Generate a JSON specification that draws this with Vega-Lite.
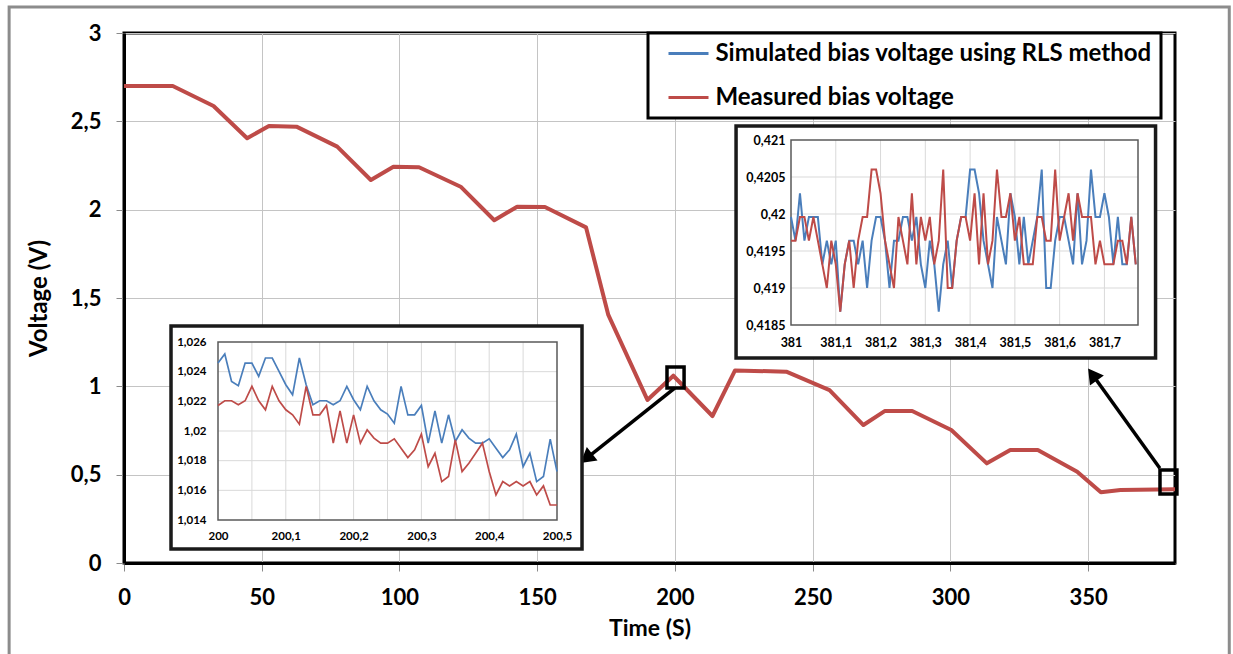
{
  "$schema": "https://vega.github.io/schema/vega-lite/v6.json",
  "width": 1051,
  "height": 530,
  "autosize": {"type": "none"},
  "padding": {"left": 124, "top": 33, "right": 58, "bottom": 91},
  "background": "white",
  "config": {
    "font": "Lato",
    "view": {"stroke": "black", "strokeWidth": 3},
    "axis": {"labelFont": "Lato", "titleFont": "Lato", "labelFlush": false, "labelOverlap": false},
    "legend": {"labelFont": "Lato"}
  },
  "datasets": {
    "main": [
      {"t": 0, "meas": 2.70}, {"t": 17.7, "meas": 2.70}, {"t": 32.5, "meas": 2.587}, {"t": 44.7, "meas": 2.404},
      {"t": 52.6, "meas": 2.474}, {"t": 62.6, "meas": 2.47}, {"t": 77.4, "meas": 2.357}, {"t": 89.6, "meas": 2.168},
      {"t": 97.8, "meas": 2.243}, {"t": 107.1, "meas": 2.24}, {"t": 122.2, "meas": 2.13}, {"t": 134.4, "meas": 1.94},
      {"t": 142.7, "meas": 2.017}, {"t": 152.8, "meas": 2.015}, {"t": 167.7, "meas": 1.9}, {"t": 175.8, "meas": 1.404},
      {"t": 190, "meas": 0.923}, {"t": 199.4, "meas": 1.06}, {"t": 213.6, "meas": 0.832}, {"t": 221.8, "meas": 1.09},
      {"t": 240.4, "meas": 1.083}, {"t": 256.1, "meas": 0.979}, {"t": 268.4, "meas": 0.781}, {"t": 276.1, "meas": 0.86},
      {"t": 286.1, "meas": 0.86}, {"t": 300.3, "meas": 0.753}, {"t": 313.2, "meas": 0.564}, {"t": 321.7, "meas": 0.64},
      {"t": 331.7, "meas": 0.64}, {"t": 346, "meas": 0.517}, {"t": 354.6, "meas": 0.4}, {"t": 361.7, "meas": 0.413},
      {"t": 381.5, "meas": 0.418}
    ],
    "inset1": [
      {"t": 200.00, "sim": 1.02458, "meas": 1.02172}, {"t": 200.01, "sim": 1.02519, "meas": 1.02204},
      {"t": 200.02, "sim": 1.02334, "meas": 1.02204}, {"t": 200.03, "sim": 1.02305, "meas": 1.02177},
      {"t": 200.04, "sim": 1.02458, "meas": 1.02204}, {"t": 200.05, "sim": 1.02458, "meas": 1.02301},
      {"t": 200.06, "sim": 1.02368, "meas": 1.02204}, {"t": 200.07, "sim": 1.02492, "meas": 1.02143},
      {"t": 200.08, "sim": 1.02492, "meas": 1.02301}, {"t": 200.09, "sim": 1.02402, "meas": 1.02204},
      {"t": 200.10, "sim": 1.02312, "meas": 1.02143}, {"t": 200.11, "sim": 1.02244, "meas": 1.02109},
      {"t": 200.12, "sim": 1.02492, "meas": 1.02046}, {"t": 200.13, "sim": 1.02312, "meas": 1.02301},
      {"t": 200.14, "sim": 1.02177, "meas": 1.02109}, {"t": 200.15, "sim": 1.02204, "meas": 1.02109},
      {"t": 200.16, "sim": 1.02204, "meas": 1.02172}, {"t": 200.17, "sim": 1.02177, "meas": 1.01918},
      {"t": 200.18, "sim": 1.02204, "meas": 1.02136}, {"t": 200.19, "sim": 1.02301, "meas": 1.01918},
      {"t": 200.20, "sim": 1.02211, "meas": 1.02109}, {"t": 200.21, "sim": 1.02143, "meas": 1.01918},
      {"t": 200.22, "sim": 1.02301, "meas": 1.02008}, {"t": 200.23, "sim": 1.02204, "meas": 1.01952},
      {"t": 200.24, "sim": 1.02143, "meas": 1.01918}, {"t": 200.25, "sim": 1.02114, "meas": 1.01918},
      {"t": 200.26, "sim": 1.02053, "meas": 1.01947}, {"t": 200.27, "sim": 1.02301, "meas": 1.01884},
      {"t": 200.28, "sim": 1.02109, "meas": 1.01821}, {"t": 200.29, "sim": 1.02109, "meas": 1.01873},
      {"t": 200.30, "sim": 1.02172, "meas": 1.01979}, {"t": 200.31, "sim": 1.01918, "meas": 1.0176},
      {"t": 200.32, "sim": 1.02136, "meas": 1.0185}, {"t": 200.33, "sim": 1.01918, "meas": 1.01659},
      {"t": 200.34, "sim": 1.02109, "meas": 1.01693}, {"t": 200.35, "sim": 1.01929, "meas": 1.0194},
      {"t": 200.36, "sim": 1.02008, "meas": 1.01727}, {"t": 200.37, "sim": 1.01952, "meas": 1.01783},
      {"t": 200.38, "sim": 1.01918, "meas": 1.0185}, {"t": 200.39, "sim": 1.01918, "meas": 1.01918},
      {"t": 200.40, "sim": 1.01947, "meas": 1.01727}, {"t": 200.41, "sim": 1.01884, "meas": 1.01569},
      {"t": 200.42, "sim": 1.01821, "meas": 1.01659}, {"t": 200.43, "sim": 1.01873, "meas": 1.0163},
      {"t": 200.44, "sim": 1.01979, "meas": 1.01659}, {"t": 200.45, "sim": 1.0176, "meas": 1.0163},
      {"t": 200.46, "sim": 1.0185, "meas": 1.01659}, {"t": 200.47, "sim": 1.01659, "meas": 1.01569},
      {"t": 200.48, "sim": 1.01693, "meas": 1.0163}, {"t": 200.49, "sim": 1.01945, "meas": 1.01501},
      {"t": 200.50, "sim": 1.01727, "meas": 1.01501}
    ],
    "inset2": [
      {"t": 381.00, "sim": 0.41996, "meas": 0.41964}, {"t": 381.01, "sim": 0.41964, "meas": 0.41964},
      {"t": 381.02, "sim": 0.42028, "meas": 0.41996}, {"t": 381.03, "sim": 0.41964, "meas": 0.41996},
      {"t": 381.04, "sim": 0.41996, "meas": 0.41964}, {"t": 381.05, "sim": 0.41996, "meas": 0.41996},
      {"t": 381.06, "sim": 0.41996, "meas": 0.41964}, {"t": 381.07, "sim": 0.41932, "meas": 0.41932},
      {"t": 381.08, "sim": 0.41964, "meas": 0.419}, {"t": 381.09, "sim": 0.41932, "meas": 0.41964},
      {"t": 381.10, "sim": 0.41964, "meas": 0.41932}, {"t": 381.11, "sim": 0.41868, "meas": 0.41868},
      {"t": 381.12, "sim": 0.41932, "meas": 0.41932}, {"t": 381.13, "sim": 0.41964, "meas": 0.41964},
      {"t": 381.14, "sim": 0.41964, "meas": 0.419}, {"t": 381.15, "sim": 0.41932, "meas": 0.41964},
      {"t": 381.16, "sim": 0.41964, "meas": 0.41996}, {"t": 381.17, "sim": 0.419, "meas": 0.41996},
      {"t": 381.18, "sim": 0.41964, "meas": 0.4206}, {"t": 381.19, "sim": 0.41996, "meas": 0.4206},
      {"t": 381.20, "sim": 0.41996, "meas": 0.42028}, {"t": 381.21, "sim": 0.41964, "meas": 0.41964},
      {"t": 381.22, "sim": 0.419, "meas": 0.41932}, {"t": 381.23, "sim": 0.41964, "meas": 0.419},
      {"t": 381.24, "sim": 0.41964, "meas": 0.41996}, {"t": 381.25, "sim": 0.41996, "meas": 0.41964},
      {"t": 381.26, "sim": 0.41996, "meas": 0.41932}, {"t": 381.27, "sim": 0.41964, "meas": 0.42028},
      {"t": 381.28, "sim": 0.41996, "meas": 0.41932}, {"t": 381.29, "sim": 0.41932, "meas": 0.41996},
      {"t": 381.30, "sim": 0.419, "meas": 0.41964}, {"t": 381.31, "sim": 0.41964, "meas": 0.41996},
      {"t": 381.32, "sim": 0.41932, "meas": 0.41932}, {"t": 381.33, "sim": 0.41868, "meas": 0.41964},
      {"t": 381.34, "sim": 0.41932, "meas": 0.4206}, {"t": 381.35, "sim": 0.41964, "meas": 0.419},
      {"t": 381.36, "sim": 0.419, "meas": 0.419}, {"t": 381.37, "sim": 0.41964, "meas": 0.41964},
      {"t": 381.38, "sim": 0.41996, "meas": 0.41996}, {"t": 381.39, "sim": 0.41996, "meas": 0.41996},
      {"t": 381.40, "sim": 0.4206, "meas": 0.41964}, {"t": 381.41, "sim": 0.4206, "meas": 0.42028},
      {"t": 381.42, "sim": 0.42028, "meas": 0.41932}, {"t": 381.43, "sim": 0.41964, "meas": 0.42028},
      {"t": 381.44, "sim": 0.41932, "meas": 0.41932}, {"t": 381.45, "sim": 0.419, "meas": 0.41964},
      {"t": 381.46, "sim": 0.41996, "meas": 0.4206}, {"t": 381.47, "sim": 0.41964, "meas": 0.41996},
      {"t": 381.48, "sim": 0.41932, "meas": 0.41996}, {"t": 381.49, "sim": 0.42028, "meas": 0.42028},
      {"t": 381.50, "sim": 0.41996, "meas": 0.41964}, {"t": 381.51, "sim": 0.41932, "meas": 0.41996},
      {"t": 381.52, "sim": 0.41996, "meas": 0.41932}, {"t": 381.53, "sim": 0.41932, "meas": 0.41932},
      {"t": 381.54, "sim": 0.41964, "meas": 0.41932}, {"t": 381.55, "sim": 0.41996, "meas": 0.41996},
      {"t": 381.56, "sim": 0.4206, "meas": 0.41996}, {"t": 381.57, "sim": 0.419, "meas": 0.41964},
      {"t": 381.58, "sim": 0.419, "meas": 0.41964}, {"t": 381.59, "sim": 0.41964, "meas": 0.4206},
      {"t": 381.60, "sim": 0.41996, "meas": 0.41964}, {"t": 381.61, "sim": 0.41996, "meas": 0.41996},
      {"t": 381.62, "sim": 0.41964, "meas": 0.42028}, {"t": 381.63, "sim": 0.41932, "meas": 0.41964},
      {"t": 381.64, "sim": 0.42028, "meas": 0.42028}, {"t": 381.65, "sim": 0.41932, "meas": 0.41996},
      {"t": 381.66, "sim": 0.41964, "meas": 0.41996}, {"t": 381.67, "sim": 0.4206, "meas": 0.41996},
      {"t": 381.68, "sim": 0.41996, "meas": 0.41932}, {"t": 381.69, "sim": 0.41996, "meas": 0.41964},
      {"t": 381.70, "sim": 0.42028, "meas": 0.41932}, {"t": 381.71, "sim": 0.41996, "meas": 0.41932},
      {"t": 381.72, "sim": 0.41932, "meas": 0.41932}, {"t": 381.73, "sim": 0.41996, "meas": 0.41964},
      {"t": 381.74, "sim": 0.41932, "meas": 0.41964}, {"t": 381.75, "sim": 0.41932, "meas": 0.41932},
      {"t": 381.76, "sim": 0.41996, "meas": 0.41996}, {"t": 381.77, "sim": 0.41932, "meas": 0.41932}
    ],
    "g1x": [{"g": 200.05}, {"g": 200.1}, {"g": 200.15}, {"g": 200.2}, {"g": 200.25}, {"g": 200.3}, {"g": 200.35}, {"g": 200.4}, {"g": 200.45}],
    "g1y": [{"g": 1.016}, {"g": 1.018}, {"g": 1.02}, {"g": 1.022}, {"g": 1.024}],
    "g2x": [{"g": 381.1}, {"g": 381.2}, {"g": 381.3}, {"g": 381.4}, {"g": 381.5}, {"g": 381.6}, {"g": 381.7}],
    "g2y": [{"g": 0.419}, {"g": 0.4195}, {"g": 0.42}, {"g": 0.4205}]
  },
  "resolve": {"scale": {"x": "independent", "y": "independent"}, "axis": {"x": "independent", "y": "independent"}},
  "layer": [
    {
      "layer": [
        {
          "data": {"name": "main"},
          "transform": [{"fold": ["meas"], "as": ["series", "v"]}],
          "mark": {"type": "line", "strokeWidth": 4, "strokeJoin": "round"},
          "encoding": {
            "x": {
              "field": "t", "type": "quantitative",
              "scale": {"domain": [0, 381.5], "nice": false, "zero": false},
              "axis": {
                "title": "Time (S)", "values": [0, 50, 100, 150, 200, 250, 300, 350],
                "grid": true, "gridColor": "#c4c4c4", "gridWidth": 1,
                "domainColor": "black", "domainWidth": 3,
                "tickColor": "#8a8a8a", "tickSize": 8, "tickWidth": 1,
                "labelFontSize": 22, "labelFontWeight": "bold", "labelColor": "black", "labelPadding": 16,
                "titleFontSize": 23, "titleFontWeight": "bold", "titleColor": "black", "titlePadding": 9,
                "labelExpr": "replace(format(datum.value, '~g'), '.', ',')"
              }
            },
            "y": {
              "field": "v", "type": "quantitative",
              "scale": {"domain": [0, 3], "nice": false, "zero": false},
              "axis": {
                "title": "Voltage (V)", "values": [0, 0.5, 1, 1.5, 2, 2.5, 3],
                "grid": true, "gridColor": "#c4c4c4", "gridWidth": 1,
                "domainColor": "black", "domainWidth": 3,
                "tickColor": "#8a8a8a", "tickSize": 8, "tickWidth": 1,
                "labelFontSize": 22, "labelFontWeight": "bold", "labelColor": "black", "labelPadding": 15,
                "titleFontSize": 24, "titleFontWeight": "bold", "titleColor": "black", "titlePadding": 19,
                "labelExpr": "replace(format(datum.value, '~g'), '.', ',')"
              }
            },
            "color": {
              "field": "series", "type": "nominal",
              "scale": {"domain": ["sim", "meas"], "range": ["#4a7ebb", "#be4b48"]},
              "legend": {
                "orient": "none", "legendX": 524, "legendY": 0, "title": null,
                "symbolType": "M-2,0H2", "symbolSize": 400, "symbolStrokeWidth": 3,
                "symbolOffset": 20, "labelOffset": 15,
                "labelFontSize": 24, "labelFontWeight": "bold", "labelColor": "black", "labelLimit": 700,
                "padding": 8.5, "rowPadding": 20,
                "strokeColor": "black", "fillColor": "white",
                "labelExpr": "datum.label == 'sim' ? 'Simulated bias voltage using RLS method' : 'Measured bias voltage'",
                "encode": {"legend": {"update": {"strokeWidth": {"value": 3}}}}
              }
            }
          }
        },
        {
          "data": {"values": [{}]},
          "mark": {"type": "rect", "filled": false, "stroke": "#8c8c8c", "strokeWidth": 3},
          "encoding": {
            "x": {"datum": -41.7, "type": "quantitative"},
            "x2": {"datum": 401.2},
            "y": {"datum": 3.147, "type": "quantitative"},
            "y2": {"datum": -0.85}
          }
        },
        {
          "data": {"values": [{}]},
          "mark": {"type": "rect", "filled": false, "stroke": "black", "strokeWidth": 3.5},
          "encoding": {
            "x": {"datum": 197.1, "type": "quantitative"}, "x2": {"datum": 203.3},
            "y": {"datum": 1.109, "type": "quantitative"}, "y2": {"datum": 0.991}
          }
        },
        {
          "data": {"values": [{}]},
          "mark": {"type": "rect", "filled": false, "stroke": "black", "strokeWidth": 3.5},
          "encoding": {
            "x": {"datum": 376.05, "type": "quantitative"}, "x2": {"datum": 382.2},
            "y": {"datum": 0.526, "type": "quantitative"}, "y2": {"datum": 0.391}
          }
        },
        {
          "data": {"values": [{}]},
          "mark": {"type": "rule", "stroke": "black", "strokeWidth": 3.5},
          "encoding": {
            "x": {"datum": 199.9, "type": "quantitative"}, "x2": {"datum": 167.96},
            "y": {"datum": 0.99, "type": "quantitative"}, "y2": {"datum": 0.594}
          }
        },
        {
          "data": {"values": [{}]},
          "mark": {"type": "point", "shape": "triangle-up", "filled": true, "fill": "black", "stroke": "black", "size": 190, "angle": 231.5, "opacity": 1},
          "encoding": {
            "x": {"datum": 167.96, "type": "quantitative"},
            "y": {"datum": 0.594, "type": "quantitative"}
          }
        },
        {
          "data": {"values": [{}]},
          "mark": {"type": "rule", "stroke": "black", "strokeWidth": 3.5},
          "encoding": {
            "x": {"datum": 376.0, "type": "quantitative"}, "x2": {"datum": 351.66},
            "y": {"datum": 0.536, "type": "quantitative"}, "y2": {"datum": 1.0647}
          }
        },
        {
          "data": {"values": [{}]},
          "mark": {"type": "point", "shape": "triangle-up", "filled": true, "fill": "black", "stroke": "black", "size": 190, "angle": 324, "opacity": 1},
          "encoding": {
            "x": {"datum": 351.66, "type": "quantitative"},
            "y": {"datum": 1.0647, "type": "quantitative"}
          }
        }
      ]
    },
    {
      "layer": [
        {
          "data": {"values": [{}]},
          "mark": {"type": "rect", "fill": "white", "stroke": "#1a1a1a", "strokeWidth": 3.5},
          "encoding": {
            "x": {"datum": 199.9307, "type": "quantitative", "scale": {"domain": [200, 200.5], "range": [94, 433], "nice": false, "zero": false}},
            "x2": {"datum": 200.5369},
            "y": {"datum": 1.01204, "type": "quantitative", "scale": {"domain": [1.014, 1.026], "range": [487, 309], "nice": false, "zero": false}},
            "y2": {"datum": 1.02708}
          }
        },
        {
          "data": {"name": "g1x"},
          "mark": {"type": "rule", "stroke": "#d9d9d9", "strokeWidth": 1},
          "encoding": {
            "x": {"field": "g", "type": "quantitative"},
            "y": {"datum": 1.014, "type": "quantitative"}, "y2": {"datum": 1.026}
          }
        },
        {
          "data": {"name": "g1y"},
          "mark": {"type": "rule", "stroke": "#d9d9d9", "strokeWidth": 1},
          "encoding": {
            "y": {"field": "g", "type": "quantitative"},
            "x": {"datum": 200, "type": "quantitative"}, "x2": {"datum": 200.5}
          }
        },
        {
          "data": {"values": [{}]},
          "mark": {"type": "rect", "filled": false, "stroke": "#595959", "strokeWidth": 1.5},
          "encoding": {
            "x": {"datum": 200, "type": "quantitative"}, "x2": {"datum": 200.5},
            "y": {"datum": 1.014, "type": "quantitative"}, "y2": {"datum": 1.026}
          }
        },
        {
          "data": {"name": "inset1"},
          "transform": [{"fold": ["sim", "meas"], "as": ["series", "v"]}],
          "mark": {"type": "line", "strokeWidth": 1.7},
          "encoding": {
            "x": {
              "field": "t", "type": "quantitative",
              "axis": {
                "orient": "bottom", "offset": -43, "title": null, "zindex": 1,
                "values": [200, 200.1, 200.2, 200.3, 200.4, 200.5],
                "grid": false, "ticks": false, "domain": false,
                "labelFontSize": 11.5, "labelFontWeight": "bold", "labelColor": "black", "labelPadding": 10,
                "labelExpr": "replace(format(datum.value, '~g'), '.', ',')"
              }
            },
            "y": {
              "field": "v", "type": "quantitative",
              "axis": {
                "orient": "left", "offset": -94, "title": null, "zindex": 1,
                "values": [1.014, 1.016, 1.018, 1.02, 1.022, 1.024, 1.026],
                "grid": false, "ticks": false, "domain": false,
                "labelFontSize": 11.5, "labelFontWeight": "bold", "labelColor": "black", "labelPadding": 12,
                "labelExpr": "replace(format(datum.value, '~g'), '.', ',')"
              }
            },
            "color": {"field": "series", "type": "nominal", "legend": null}
          }
        }
      ]
    },
    {
      "layer": [
        {
          "data": {"values": [{}]},
          "mark": {"type": "rect", "fill": "white", "stroke": "#1a1a1a", "strokeWidth": 3.5},
          "encoding": {
            "x": {"datum": 380.8773, "type": "quantitative", "scale": {"domain": [381, 381.775], "range": [667, 1014], "nice": false, "zero": false}},
            "x2": {"datum": 381.8142},
            "y": {"datum": 0.418054, "type": "quantitative", "scale": {"domain": [0.4185, 0.421], "range": [292, 107], "nice": false, "zero": false}},
            "y2": {"datum": 0.421189}
          }
        },
        {
          "data": {"name": "g2x"},
          "mark": {"type": "rule", "stroke": "#d9d9d9", "strokeWidth": 1},
          "encoding": {
            "x": {"field": "g", "type": "quantitative"},
            "y": {"datum": 0.4185, "type": "quantitative"}, "y2": {"datum": 0.421}
          }
        },
        {
          "data": {"name": "g2y"},
          "mark": {"type": "rule", "stroke": "#d9d9d9", "strokeWidth": 1},
          "encoding": {
            "y": {"field": "g", "type": "quantitative"},
            "x": {"datum": 381, "type": "quantitative"}, "x2": {"datum": 381.775}
          }
        },
        {
          "data": {"values": [{}]},
          "mark": {"type": "rect", "filled": false, "stroke": "#595959", "strokeWidth": 1.5},
          "encoding": {
            "x": {"datum": 381, "type": "quantitative"}, "x2": {"datum": 381.775},
            "y": {"datum": 0.4185, "type": "quantitative"}, "y2": {"datum": 0.421}
          }
        },
        {
          "data": {"name": "inset2"},
          "transform": [{"fold": ["sim", "meas"], "as": ["series", "v"]}],
          "mark": {"type": "line", "strokeWidth": 2},
          "encoding": {
            "x": {
              "field": "t", "type": "quantitative",
              "axis": {
                "orient": "bottom", "offset": -238, "title": null, "zindex": 1,
                "values": [381, 381.1, 381.2, 381.3, 381.4, 381.5, 381.6, 381.7],
                "grid": false, "ticks": false, "domain": false,
                "labelFontSize": 12.5, "labelFontWeight": "bold", "labelColor": "black", "labelPadding": 11,
                "labelExpr": "replace(format(datum.value, '~g'), '.', ',')"
              }
            },
            "y": {
              "field": "v", "type": "quantitative",
              "axis": {
                "orient": "left", "offset": -667, "title": null, "zindex": 1,
                "values": [0.4185, 0.419, 0.4195, 0.42, 0.4205, 0.421],
                "grid": false, "ticks": false, "domain": false,
                "labelFontSize": 12.5, "labelFontWeight": "bold", "labelColor": "black", "labelPadding": 6,
                "labelExpr": "replace(format(datum.value, '~g'), '.', ',')"
              }
            },
            "color": {"field": "series", "type": "nominal", "legend": null}
          }
        }
      ]
    }
  ]
}
